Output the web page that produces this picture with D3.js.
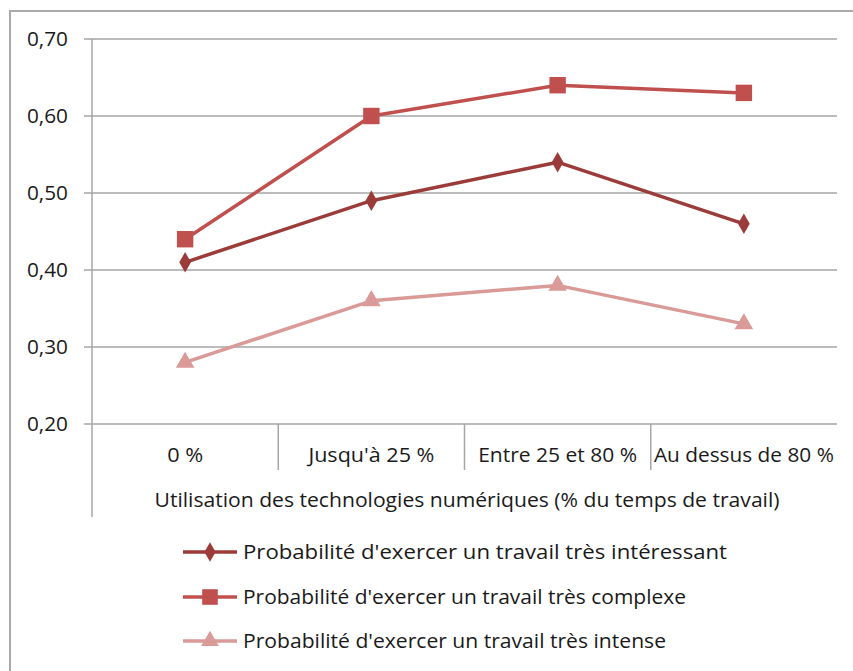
<!DOCTYPE html>
<html><head><meta charset="utf-8">
<script src="https://cdn.jsdelivr.net/npm/d3@7"></script>
<style>body{margin:0;background:#fff}text{font-family:"Open Sans",sans-serif}</style>
</head><body><svg id="c" width="853" height="671"></svg>
<script>
const categories = ["0 %", "Jusqu'à 25 %", "Entre 25 et 80 %", "Au dessus de 80 %"];
const interessant = [0.41, 0.49, 0.54, 0.46];
const complexe = [0.44, 0.60, 0.64, 0.63];
const intense = [0.28, 0.36, 0.38, 0.33];
const seriesNames = ["Probabilité d'exercer un travail très intéressant","Probabilité d'exercer un travail très complexe","Probabilité d'exercer un travail très intense"];
const yTicks = [0.20, 0.30, 0.40, 0.50, 0.60, 0.70];
const xTitle = "Utilisation des technologies numériques (% du temps de travail)";

const series = [
  {name: seriesNames[0], values: interessant, color: "#9B3B3A", sym: d3.symbolDiamond, size: 120},
  {name: seriesNames[1], values: complexe, color: "#C0504D", sym: d3.symbolSquare, size: 270},
  {name: seriesNames[2], values: intense, color: "#D99A98", sym: d3.symbolTriangle, size: 150}
];

const svg = d3.select("#c");
svg.append("rect").attr("x",10).attr("y",11).attr("width",860).attr("height",680).attr("fill","none").attr("stroke","#aaa").attr("stroke-width",2);

const L = 92, R = 837, T = 39, B = 424;
const x = d3.scaleBand().domain(categories).range([L, R]);
const y = d3.scaleLinear().domain([0.2, 0.7]).range([B, T]);

const g = svg.append("g");
g.selectAll(".grid").data(yTicks).join("line")
  .attr("x1", L-8).attr("x2", R).attr("y1", d=>y(d)).attr("y2", d=>y(d))
  .attr("stroke","#a6a6a6").attr("stroke-width",1.5);
g.append("line").attr("x1",L).attr("x2",L).attr("y1",T).attr("y2",517).attr("stroke","#a6a6a6").attr("stroke-width",1.5);
g.selectAll(".div").data(categories.slice(1)).join("line")
  .attr("x1", d=>x(d)).attr("x2", d=>x(d)).attr("y1", B).attr("y2", 470)
  .attr("stroke","#a6a6a6").attr("stroke-width",1.5);
g.selectAll(".yl").data(yTicks).join("text")
  .attr("x", 68).attr("y", d=>y(d)).attr("dy","0.35em").attr("text-anchor","end")
  .attr("font-size",20).attr("fill","#1a1a1a").text(d=>d3.format(".2f")(d).replace(".",","))
  .attr("textLength",41).attr("lengthAdjust","spacingAndGlyphs");
const catW = [36, 126, 159, 180];
g.selectAll(".xl").data(categories).join("text")
  .attr("x", d=>x(d)+x.bandwidth()/2).attr("y", 455).attr("dy","0.35em").attr("text-anchor","middle")
  .attr("font-size",19.5).attr("fill","#1a1a1a").text(d=>d)
  .attr("textLength",(d,i)=>catW[i]).attr("lengthAdjust","spacingAndGlyphs");
g.append("text").attr("x", 467).attr("y", 500).attr("dy","0.35em").attr("text-anchor","middle")
  .attr("font-size",19.5).attr("fill","#1a1a1a").text(xTitle)
  .attr("textLength",625).attr("lengthAdjust","spacingAndGlyphs");

const line = d3.line().x((d,i)=>x(categories[i])+x.bandwidth()/2).y(d=>y(d));
series.forEach(s=>{
  g.append("path").datum(s.values).attr("d", line).attr("fill","none").attr("stroke", s.color).attr("stroke-width",3.5).attr("stroke-linejoin","round");
  g.selectAll(null).data(s.values).join("path")
    .attr("d", d3.symbol().type(s.sym).size(s.size))
    .attr("transform",(d,i)=>`translate(${x(categories[i])+x.bandwidth()/2},${y(d)})`)
    .attr("fill", s.color);
});

const ly = [552, 597, 641];
const lw = [484, 443, 423];
series.forEach((s,i)=>{
  const lg = svg.append("g");
  lg.append("line").attr("x1",183).attr("x2",237).attr("y1",ly[i]).attr("y2",ly[i]).attr("stroke",s.color).attr("stroke-width",3.5);
  lg.append("path").attr("d", d3.symbol().type(s.sym).size(s.size*0.9)).attr("transform",`translate(210,${ly[i]})`).attr("fill",s.color);
  lg.append("text").attr("x",243).attr("y",ly[i]).attr("dy","0.35em").attr("font-size",20).attr("fill","#1a1a1a").text(s.name)
    .attr("textLength",lw[i]).attr("lengthAdjust","spacingAndGlyphs");
});
</script></body></html>
